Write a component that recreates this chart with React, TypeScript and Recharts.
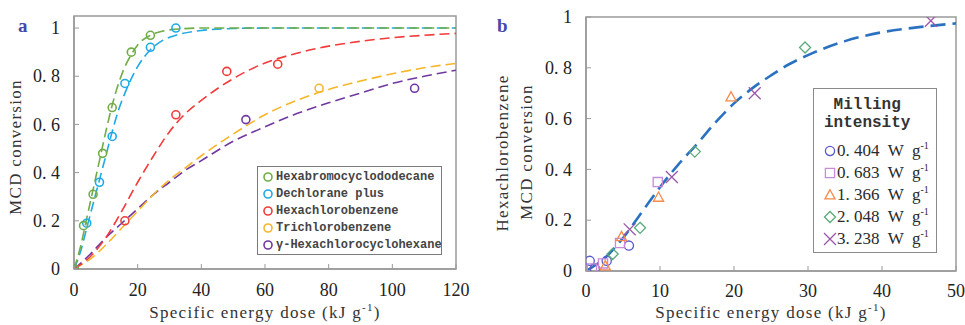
import React from 'react';
import { ComposedChart, Line, Scatter, XAxis, YAxis, ReferenceArea } from 'recharts';

// ---------- Panel a data ----------
const aXTicks = [0, 20, 40, 60, 80, 100, 120];
const aYTicks = [0, 0.2, 0.4, 0.6, 0.8, 1];

const hbcdX = [0, 3, 6, 9, 12, 18, 24];
const hbcdY = [0, 0.18, 0.31, 0.48, 0.67, 0.9, 0.97];
const dpX = [0, 4, 8, 12, 16, 24, 32];
const dpY = [0, 0.19, 0.36, 0.55, 0.77, 0.92, 1.0];
const hcbX = [0, 16, 32, 48, 64];
const hcbY = [0, 0.2, 0.64, 0.82, 0.85];
const tcbX = [0, 77];
const tcbY = [0, 0.75];
const hchX = [0, 54, 107];
const hchY = [0, 0.62, 0.75];

const hbcdFitX = [0, 2, 4, 6, 8, 10, 12, 14, 16, 18, 20, 24, 28, 32, 40, 50, 60, 80, 100, 120];
const hbcdFitY = [0, 0.09, 0.21, 0.33, 0.45, 0.57, 0.68, 0.77, 0.84, 0.89, 0.93, 0.97, 0.988, 0.995, 1, 1, 1, 1, 1, 1];
const dpFitX = [0, 2, 4, 6, 8, 10, 12, 14, 16, 18, 20, 24, 28, 32, 40, 50, 60, 120];
const dpFitY = [0, 0.07, 0.17, 0.27, 0.37, 0.47, 0.57, 0.66, 0.73, 0.79, 0.84, 0.91, 0.95, 0.97, 0.99, 0.998, 1, 1];
const hcbFitX = [0, 5, 10, 15, 20, 25, 30, 35, 40, 50, 60, 70, 80, 90, 100, 110, 120];
const hcbFitY = [0, 0.05, 0.13, 0.24, 0.36, 0.47, 0.57, 0.645, 0.7, 0.79, 0.855, 0.895, 0.925, 0.945, 0.96, 0.97, 0.978];
const tcbFitX = [0, 5, 10, 15, 20, 25, 30, 35, 40, 50, 60, 70, 80, 90, 100, 110, 120];
const tcbFitY = [0, 0.04, 0.1, 0.17, 0.24, 0.31, 0.37, 0.42, 0.47, 0.56, 0.64, 0.7, 0.745, 0.78, 0.81, 0.835, 0.853];
const hchFitX = [0, 5, 10, 15, 20, 25, 30, 35, 40, 50, 60, 70, 80, 90, 100, 110, 120];
const hchFitY = [0, 0.06, 0.13, 0.19, 0.25, 0.31, 0.36, 0.41, 0.45, 0.53, 0.59, 0.645, 0.69, 0.73, 0.77, 0.8, 0.825];

const aNames = ['Hexabromocyclododecane', 'Dechlorane plus', 'Hexachlorobenzene', 'Trichlorobenzene', 'γ-Hexachlorocyclohexane'];
const aColors = ['#70ad47', '#1fa9e6', '#f23b3b', '#f7b52a', '#7038a0'];

// ---------- Panel b data ----------
const bXTicks = [0, 10, 20, 30, 40, 50];
const bYTicks = [0, 0.2, 0.4, 0.6, 0.8, 1];

const i404X = [0.5, 1.2, 2.8, 5.8];
const i404Y = [0.04, 0.01, 0.04, 0.1];
const i683X = [0.8, 2.3, 4.6, 9.7];
const i683Y = [0.01, 0.03, 0.11, 0.35];
const i1366X = [2.6, 4.8, 9.8, 19.6];
const i1366Y = [0.02, 0.135, 0.29, 0.685];
const i2048X = [3.6, 7.3, 14.7, 29.6];
const i2048Y = [0.067, 0.17, 0.47, 0.88];
const i3238X = [5.9, 11.6, 22.8, 46.6];
const i3238Y = [0.164, 0.37, 0.7, 0.985];

const bFitX = [0, 2.5, 5, 7.5, 10, 12.5, 15, 17.5, 20, 22.5, 25, 27.5, 30, 35, 40, 45, 50];
const bFitY = [0, 0.05, 0.13, 0.23, 0.33, 0.42, 0.5, 0.585, 0.66, 0.72, 0.77, 0.815, 0.85, 0.905, 0.94, 0.96, 0.975];

const bNames = ['0. 404', '0. 683', '1. 366', '2. 048', '3. 238'];
const bColors = ['#5a5ac8', '#c58ad8', '#f58a4a', '#5aaa7a', '#9a58a8'];
const bShapes = ['circle', 'square', 'triangle', 'diamond', 'x'];

const zip = (xs: number[], ys: number[]) => xs.map((x, i) => ({ x, y: ys[i] }));

const fmtY = (v: number) => (v === 0 ? '0' : v === 1 ? '1' : '0. ' + Math.round(v * 10));

const MONO = '"Liberation Mono", "DejaVu Sans Mono", monospace';
const SERIF = '"Liberation Serif", "DejaVu Serif", serif';

const hollowCircle = (color: string, r: number, sw: number) => (p: any) => (
  <circle cx={p.cx} cy={p.cy} r={r} fill="none" stroke={color} strokeWidth={sw} />
);

const markerPath = (shape: string, cx: number, cy: number, s: number) => {
  switch (shape) {
    case 'square':
      return `M${cx - s},${cy - s}h${2 * s}v${2 * s}h${-2 * s}Z`;
    case 'triangle':
      return `M${cx},${cy - s * 1.15}L${cx + s * 1.1},${cy + s * 0.85}L${cx - s * 1.1},${cy + s * 0.85}Z`;
    case 'diamond':
      return `M${cx},${cy - s * 1.2}L${cx + s * 1.2},${cy}L${cx},${cy + s * 1.2}L${cx - s * 1.2},${cy}Z`;
    case 'x':
      return `M${cx - s * 1.3},${cy - s * 1.3}L${cx + s * 1.3},${cy + s * 1.3}M${cx - s * 1.3},${cy + s * 1.3}L${cx + s * 1.3},${cy - s * 1.3}`;
    default:
      return `M${cx - s},${cy}a${s},${s} 0 1,0 ${2 * s},0a${s},${s} 0 1,0 ${-2 * s},0`;
  }
};

const bShape = (shape: string, color: string) => (p: any) => (
  <path d={markerPath(shape, p.cx, p.cy, 4.6)} fill="none" stroke={color} strokeWidth={1.3} />
);

const aPts = [zip(hbcdX, hbcdY), zip(dpX, dpY), zip(hcbX, hcbY), zip(tcbX, tcbY), zip(hchX, hchY)];
const aFits = [
  zip(hbcdFitX, hbcdFitY),
  zip(dpFitX, dpFitY),
  zip(hcbFitX, hcbFitY),
  zip(tcbFitX, tcbFitY),
  zip(hchFitX, hchFitY),
];
const bPts = [zip(i404X, i404Y), zip(i683X, i683Y), zip(i1366X, i1366Y), zip(i2048X, i2048Y), zip(i3238X, i3238Y)];
const bFit = zip(bFitX, bFitY);

const XTick = (p: any) => (
  <text x={p.x} y={p.y} dy="0.72em" textAnchor="middle" fontFamily={SERIF} fontSize={18} fill="#222">
    {String(p.payload.value)}
  </text>
);
const YTick = (p: any) => (
  <text x={p.x} y={p.y} dy="0.34em" textAnchor="end" fontFamily={SERIF} fontSize={18} fill="#222">
    {fmtY(p.payload.value)}
  </text>
);

const axisLine = { stroke: '#9a9a9a', strokeWidth: 1.5 };
const titleFont = { fontFamily: SERIF, fontSize: 17, color: '#333', letterSpacing: 1.3 };

const XTitle = ({ left, width }: { left: number; width: number }) => (
  <div
    style={{
      position: 'absolute',
      left,
      width,
      top: 303,
      textAlign: 'center',
      whiteSpace: 'pre',
      lineHeight: '20px',
      ...titleFont,
    }}
  >
    Specific energy dose (kJ g<sup style={{ fontSize: 11, lineHeight: 0 }}>-1</sup>)
  </div>
);

const YTitle = ({ x, y, text }: { x: number; y: number; text: string }) => (
  <div
    style={{
      position: 'absolute',
      left: x,
      top: y,
      transform: 'translate(-50%, -50%) rotate(-90deg)',
      whiteSpace: 'pre',
      lineHeight: '20px',
      ...titleFont,
    }}
  >
    {text}
  </div>
);

const order = [4, 3, 2, 1, 0];

export default function App() {
  return (
    <div style={{ position: 'fixed', left: 0, top: 0, width: 965, height: 325, background: '#fff', overflow: 'hidden' }}>
      {/* Panel a */}
      <div style={{ position: 'absolute', left: 0, top: 0 }}>
        <ComposedChart width={480} height={325} margin={{ top: 16, right: 24, bottom: 0, left: 0 }}>
          <XAxis
            type="number"
            dataKey="x"
            domain={[0, 120]}
            ticks={aXTicks}
            interval={0}
            height={56}
            tickSize={-5}
            tickMargin={19}
            tick={XTick}
            axisLine={axisLine}
            tickLine={{ stroke: '#9a9a9a' }}
            allowDataOverflow
          />
          <YAxis
            type="number"
            dataKey="y"
            domain={[0, 1.05]}
            ticks={aYTicks}
            interval={0}
            width={74}
            tickSize={-5}
            tickMargin={19}
            tick={YTick}
            axisLine={axisLine}
            tickLine={{ stroke: '#9a9a9a' }}
            allowDataOverflow
          />
          <ReferenceArea x1={0} x2={120} y1={0} y2={1.05} fill="none" stroke="#9a9a9a" strokeWidth={1.5} />
          {order.map((i) => (
            <Line
              key={'fa' + i}
              data={aFits[i]}
              dataKey="y"
              type="monotone"
              stroke={aColors[i]}
              strokeWidth={1.6}
              strokeDasharray="10 5"
              dot={false}
              activeDot={false}
              isAnimationActive={false}
            />
          ))}
          {order.map((i) => (
            <Scatter
              key={'pa' + i}
              data={aPts[i]}
              dataKey="y"
              shape={hollowCircle(aColors[i], 4, 1.6)}
              isAnimationActive={false}
            />
          ))}
        </ComposedChart>
      </div>

      {/* Panel b */}
      <div style={{ position: 'absolute', left: 480, top: 0 }}>
        <ComposedChart width={485} height={325} margin={{ top: 17, right: 9, bottom: 0, left: 0 }}>
          <XAxis
            type="number"
            dataKey="x"
            domain={[0, 50]}
            ticks={bXTicks}
            interval={0}
            height={54}
            tickSize={-5}
            tickMargin={18}
            tick={XTick}
            axisLine={axisLine}
            tickLine={{ stroke: '#9a9a9a' }}
            allowDataOverflow
          />
          <YAxis
            type="number"
            dataKey="y"
            domain={[0, 1]}
            ticks={bYTicks}
            interval={0}
            width={106}
            tickSize={-5}
            tickMargin={19}
            tick={YTick}
            axisLine={axisLine}
            tickLine={{ stroke: '#9a9a9a' }}
            allowDataOverflow
          />
          <ReferenceArea x1={0} x2={50} y1={0} y2={1} fill="none" stroke="#9a9a9a" strokeWidth={1.5} />
          {bPts.map((d, i) => (
            <Scatter
              key={'pb' + i}
              data={d}
              dataKey="y"
              shape={bShape(bShapes[i], bColors[i])}
              isAnimationActive={false}
            />
          ))}
          <Line
            data={bFit}
            dataKey="y"
            type="monotone"
            stroke="#2a72c0"
            strokeWidth={2.6}
            strokeDasharray="15 7"
            dot={false}
            activeDot={false}
            isAnimationActive={false}
          />
        </ComposedChart>
      </div>

      {/* Panel labels */}
      <div style={{ position: 'absolute', left: 18, top: 15, fontFamily: SERIF, fontSize: 19, fontWeight: 700, color: '#4848a8' }}>a</div>
      <div style={{ position: 'absolute', left: 497, top: 15, fontFamily: SERIF, fontSize: 19, fontWeight: 700, color: '#4848a8' }}>b</div>

      {/* Axis titles */}
      <XTitle left={74} width={382} />
      <XTitle left={586} width={370} />
      <YTitle x={16} y={147} text="MCD conversion" />
      <YTitle x={503} y={153} text="Hexachlorobenzene" />
      <YTitle x={527} y={152} text="MCD conversion" />

      {/* Legend a */}
      <div
        style={{
          position: 'absolute',
          left: 257,
          top: 166,
          width: 183,
          height: 87,
          border: '1.5px solid #7a7a7a',
          background: '#fff',
        }}
      >
        {aNames.map((n, i) => (
          <div
            key={n}
            style={{
              position: 'absolute',
              left: 4,
              top: 1 + i * 17,
              height: 17,
              display: 'flex',
              alignItems: 'center',
              whiteSpace: 'pre',
            }}
          >
            <svg width={12} height={12} style={{ marginRight: 2 }}>
              <circle cx={6} cy={6} r={4} fill="none" stroke={aColors[i]} strokeWidth={1.6} />
            </svg>
            <span style={{ fontFamily: MONO, fontSize: 12, fontWeight: 700, color: '#444' }}>{n}</span>
          </div>
        ))}
      </div>

      {/* Legend b */}
      <div
        style={{
          position: 'absolute',
          left: 813,
          top: 88,
          width: 122,
          height: 163,
          border: '1.5px solid #8a8a8a',
          background: '#fff',
        }}
      >
        <div
          style={{
            position: 'absolute',
            left: 10,
            top: 7,
            fontFamily: MONO,
            fontSize: 16,
            fontWeight: 700,
            color: '#333',
            lineHeight: '18px',
            whiteSpace: 'pre',
          }}
        >
          {' Milling\nintensity'}
        </div>
        {bNames.map((n, i) => (
          <div
            key={n}
            style={{
              position: 'absolute',
              left: 9,
              top: 51 + i * 22,
              height: 22,
              display: 'flex',
              alignItems: 'center',
              whiteSpace: 'pre',
            }}
          >
            <svg width={14} height={14}>
              <path d={markerPath(bShapes[i], 7, 7, 4.6)} fill="none" stroke={bColors[i]} strokeWidth={1.3} />
            </svg>
            <span style={{ fontFamily: SERIF, fontSize: 17, color: '#2a2a2a' }}>
              {n + '  W  g'}
              <sup style={{ fontSize: 10, lineHeight: 0 }}>-1</sup>
            </span>
          </div>
        ))}
      </div>
    </div>
  );
}
